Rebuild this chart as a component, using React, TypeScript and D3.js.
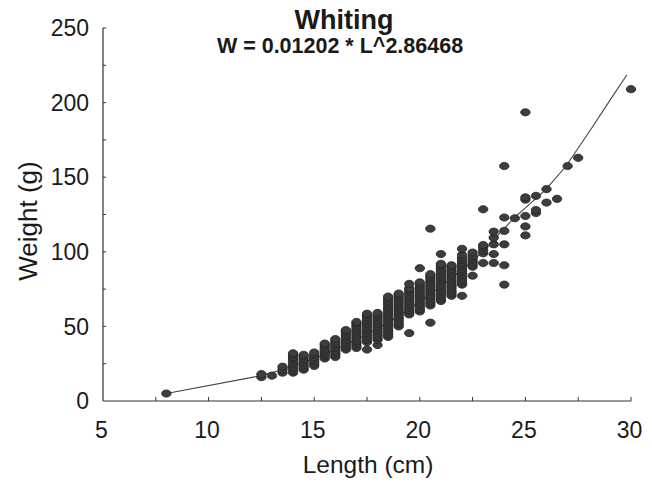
import React from "react";
import * as d3 from "d3";

const title = "Whiting";
const subtitle = "W = 0.01202 * L^2.86468";
const xLabel = "Length (cm)";
const yLabel = "Weight (g)";

const xTicks = [5, 10, 15, 20, 25, 30];
const yTicks = [0, 50, 100, 150, 200, 250];
const xMinorTicks = [7.5, 10, 12.5, 15, 17.5, 20, 22.5, 25, 27.5, 30];
const yMinorTicks = [25, 50, 75, 100, 125, 150, 175, 200, 225, 250];

// lengths of each column of observations
const columnLengths = [
  8, 12.5, 13, 13.5, 14, 14.5, 15, 15.5, 16, 16.5, 17, 17.5, 18, 18.5, 19, 19.5,
  20, 20.5, 21, 21.5, 22, 22.5, 23, 23.5, 24, 24.5, 25, 25.5, 26, 26.5, 27, 27.5, 30,
];
// observed weights in each column
const columnWeights: number[][] = [
  [5],
  [16, 18],
  [17],
  [19, 21, 23],
  [19, 20.5, 22, 23.5, 25, 26.5, 28, 29.5, 31, 32],
  [21, 22.5, 24, 25.5, 27, 28.5, 30, 31],
  [23.5, 25, 26.5, 28, 29.5, 31, 32.5],
  [28.5, 30, 31.5, 33, 34.5, 36, 37.5, 38.5],
  [29.5, 31, 32.5, 34, 35.5, 37, 38.5, 40, 41.5],
  [34.5, 36, 37.5, 39, 40.5, 42, 43.5, 45, 46.5, 47.5],
  [35.5, 37, 38.5, 40, 41.5, 43, 44.5, 46, 47.5, 49, 50.5, 52, 53],
  [34.5, 39.5, 41, 42.5, 44, 45.5, 47, 48.5, 50, 51.5, 53, 54.5, 56, 57.5, 58.5],
  [37.5, 41, 42.5, 44, 45.5, 47, 48.5, 50, 51.5, 53, 54.5, 56, 57.5, 59],
  [43, 44.5, 46, 47.5, 49, 50.5, 52, 53.5, 55, 56.5, 58, 59.5, 61, 62.5, 64, 65.5, 67, 68.5, 70],
  [50, 51.5, 53, 54.5, 56, 57.5, 59, 60.5, 62, 63.5, 65, 66.5, 68, 69.5, 71, 72],
  [45.5, 58, 59.5, 61, 62.5, 64, 65.5, 67, 68.5, 70, 71.5, 73, 74.5, 75.5, 78.5],
  [60, 61.5, 63, 64.5, 66, 67.5, 69, 70.5, 72, 73.5, 75, 76.5, 78, 79.5, 89],
  [52.5, 64, 65.5, 67, 68.5, 70, 71.5, 73, 74.5, 76, 77.5, 79, 80.5, 82, 83.5, 85, 115.5],
  [67, 68.5, 70, 71.5, 73, 74.5, 76, 77.5, 79, 80.5, 82, 83.5, 85, 86.5, 88, 89.5, 91, 92, 98.5],
  [70.5, 72, 73.5, 75, 76.5, 78, 79.5, 81, 82.5, 84, 85.5, 87, 88.5, 90, 91],
  [70.5, 78, 79.5, 81, 82.5, 84, 85.5, 87, 88.5, 90, 91.5, 93, 94.5, 96, 98, 102],
  [84, 90, 91.5, 93, 94.5, 96, 97.5, 99.5],
  [92.5, 99, 101, 103, 104.5, 128.5],
  [92.5, 98.5, 105, 109.5, 113.5],
  [78, 91, 105, 114, 123, 157.5],
  [122.5],
  [111, 117, 124, 135, 136.5, 193.5],
  [126, 128, 137.5],
  [133, 142],
  [135.5],
  [157.5],
  [163],
  [209],
];

// fitted curve as drawn
const fitLengths = [8, 12.5, 13, 14, 15, 16, 17, 18, 19, 20, 21, 22, 23, 23.5, 24.45, 25, 25.95, 26.9, 28, 29, 29.8];
const fitWeights = [5, 17, 19, 23.5, 28.5, 34.5, 41, 48.5, 57, 66.5, 77, 88, 100, 108, 122.5, 129.5, 141.5, 157, 180, 201.5, 218.5];

const W = 652;
const H = 482;

export default function App() {
  const x = d3.scaleLinear().domain([5, 30]).range([103, 631]);
  const y = d3.scaleLinear().domain([0, 250]).range([401, 28]);

  const points: { l: number; w: number }[] = [];
  columnLengths.forEach((l, i) => {
    columnWeights[i].forEach((w) => points.push({ l, w }));
  });

  const line = d3
    .line<number>()
    .x((_, i) => x(fitLengths[i]))
    .y((d) => y(d));

  const font = "Arial, 'Liberation Sans', sans-serif";
  const axisColor = "#333";

  return (
    <svg
      width={W}
      height={H}
      style={{ position: "absolute", left: 0, top: 0, background: "#fff" }}
      fontFamily={font}
    >
      <rect x={0} y={0} width={W} height={H} fill="#fff" />
      {/* titles */}
      <text x={344} y={29} textAnchor="middle" fontSize={27} fontWeight="bold" fill="#1a1a1a">
        {title}
      </text>
      <text x={340} y={53} textAnchor="middle" fontSize={21.5} fontWeight="bold" fill="#1a1a1a">
        {subtitle}
      </text>

      {/* axes */}
      <line x1={x(5)} x2={x(5)} y1={y(250)} y2={y(0)} stroke={axisColor} strokeWidth={1.2} />
      <line x1={x(5)} x2={x(30)} y1={y(0)} y2={y(0)} stroke={axisColor} strokeWidth={1.2} />
      {yMinorTicks.map((t) => (
        <line key={"yt" + t} x1={x(5)} x2={x(5) + 3} y1={y(t)} y2={y(t)} stroke={axisColor} strokeWidth={1} />
      ))}
      {xMinorTicks.map((t) => (
        <line key={"xt" + t} x1={x(t)} x2={x(t)} y1={y(0)} y2={y(0) - 4} stroke={axisColor} strokeWidth={1} />
      ))}
      {yTicks.map((t) => (
        <text key={"yl" + t} x={89} y={y(t)} dy="0.36em" textAnchor="end" fontSize={23} fill="#1a1a1a">
          {t}
        </text>
      ))}
      {xTicks.map((t) => (
        <text key={"xl" + t} x={x(t) - 1.5} y={438} textAnchor="middle" fontSize={23} fill="#1a1a1a">
          {t}
        </text>
      ))}
      <text x={368} y={473} textAnchor="middle" fontSize={24.5} fill="#1a1a1a">
        {xLabel}
      </text>
      <text
        transform={`translate(37, 221) rotate(-90)`}
        textAnchor="middle"
        fontSize={26}
        fill="#1a1a1a"
      >
        {yLabel}
      </text>

      {/* fitted line */}
      <path d={line(fitWeights) || ""} fill="none" stroke="#444" strokeWidth={1.1} />

      {/* points */}
      {points.map((p, i) => (
        <ellipse
          key={i}
          cx={x(p.l)}
          cy={y(p.w)}
          rx={4.7}
          ry={3.6}
          fill="#3d3d3d"
          stroke="#222"
          strokeWidth={0.8}
        />
      ))}
    </svg>
  );
}
